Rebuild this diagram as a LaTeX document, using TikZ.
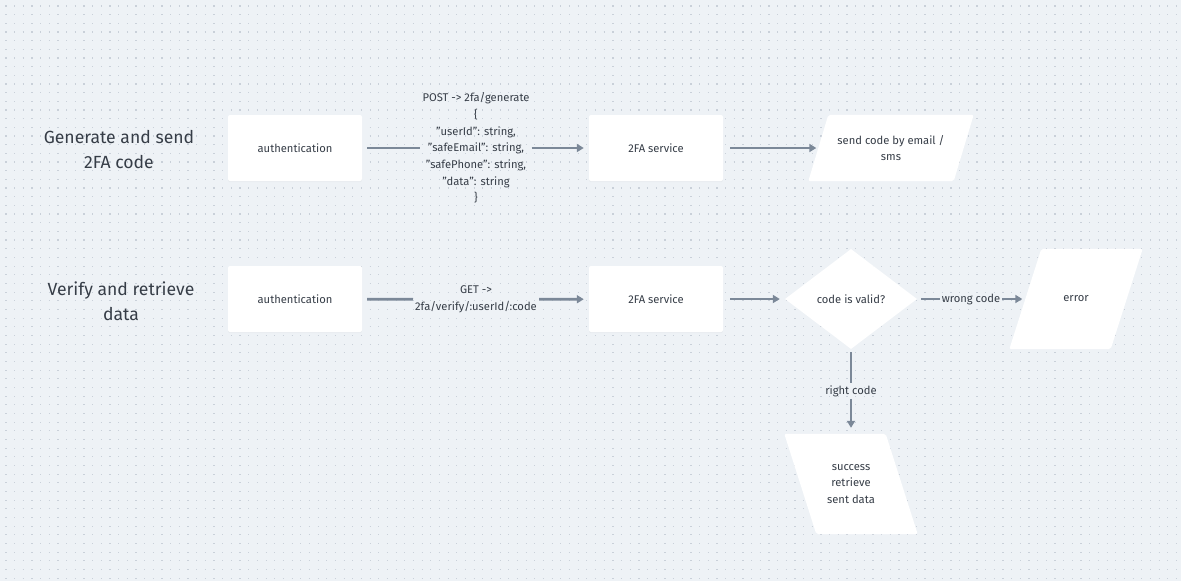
\documentclass[tikz,border=0pt]{standalone}
\usepackage{fontspec}
\setmainfont{Fira Sans}
\usetikzlibrary{arrows.meta,shapes.geometric,shadows}
\pgfdeclarelayer{grid}
\pgfdeclarelayer{shapes}
\pgfsetlayers{grid,shapes,main}
\definecolor{bgc}{HTML}{EEF2F6}
\definecolor{dotc}{HTML}{C9D0D9}
\definecolor{linec}{HTML}{7B8898}
\definecolor{txtc}{HTML}{363D47}
\tikzset{
    box/.style={fill=white, rounded corners=2pt, minimum width=134, minimum height=66,
        text=txtc, font=\fontsize{11.2}{14}\selectfont,
        drop shadow={shadow xshift=0pt, shadow yshift=-1.2pt, opacity=0.06}},
    para/.style={minimum width=145, minimum height=66, inner sep=0, align=center,
        text=txtc, font=\fontsize{11.2}{16.5}\selectfont},
    decision/.style={diamond, aspect=1.32, fill=white, minimum width=132, minimum height=100,
        inner sep=0, text=txtc, font=\fontsize{11.2}{14}\selectfont},
    lbl/.style={align=center, inner xsep=2, inner ysep=2, text=txtc,
        font=\fontsize{11.2}{16.7}\selectfont},
    title/.style={align=center, text=txtc, font=\fontsize{17.6}{25}\selectfont},
    conn/.style={draw=linec, line width=2.7pt},
    arr/.style={conn, -{Triangle[length=7pt,width=8pt]}}
}
\begin{document}
\begin{tikzpicture}[x=1pt,y=-1pt]
    \useasboundingbox (0,0) rectangle (1181,581);
    \begin{pgfonlayer}{grid}
        \fill[bgc] (0,0) rectangle (1181,581);
        \foreach \j in {0,...,66}
        {
            \draw[dotc, line width=1.2pt, dash pattern=on 1.2pt off 7.47pt] (5.4, 6+\j*8.67) -- (1181, 6+\j*8.67);
        }
    \end{pgfonlayer}

    \node[title] (gen) at (119,150) {Generate and send\\2FA code};
    \node[box] (auth1) at (295,148) {authentication};
    \node[lbl] (post) at (476,148) {POST -> 2fa/generate\\\{\\"userId": string,\\"safeEmail": string,\\"safePhone": string,\\"data": string\\\}};
    \node[box] (svc1) at (656,148) {2FA service};
    \node[para] (send) at (891,148) {send code by email /\\sms};

    \node[title] (ver) at (121,301) {Verify and retrieve\\data};
    \node[box] (auth2) at (295,299) {authentication};
    \node[lbl] (get) at (476,299.5) {GET ->\\2fa/verify/:userId/:code};
    \node[box] (svc2) at (656,299) {2FA service};
    \node[decision] (valid) at (851,299) {code is valid?};
    \node[lbl] (wrong) at (971,299) {wrong code};
    \node[para, minimum width=101, minimum height=100] (error) at (1076,299) {error};
    \node[lbl] (right) at (851,391) {right code};
    \node[para, minimum width=101, minimum height=100] (success) at (851,484) {success\\retrieve\\sent data};

    \begin{pgfonlayer}{shapes}
        \foreach \n/\a/\b in {send/10/-10, error/16/-16, success/-16/16}
        {
            \fill[white, rounded corners=2pt] ([xshift=\a]\n.north west) -- ([xshift=\a]\n.north east)
                -- ([xshift=\b]\n.south east) -- ([xshift=\b]\n.south west) -- cycle;
        }
    \end{pgfonlayer}

    \draw[conn, shorten <=5] (auth1) -- (post);
    \draw[arr, shorten >=5] (post) -- (svc1);
    \draw[arr, shorten <=7, shorten >=2] (svc1) -- (send);

    \draw[conn, shorten <=5] (auth2) -- (get);
    \draw[arr, shorten >=5] (get) -- (svc2);
    \draw[arr, shorten <=7, shorten >=5] (svc2) -- (valid);
    \draw[conn, shorten <=4] (valid) -- (wrong);
    \draw[arr, shorten >=3] (wrong) -- (error);
    \draw[conn, shorten <=3] (valid) -- (right);
    \draw[arr, shorten >=6] (right) -- (success);
\end{tikzpicture}
\end{document}
